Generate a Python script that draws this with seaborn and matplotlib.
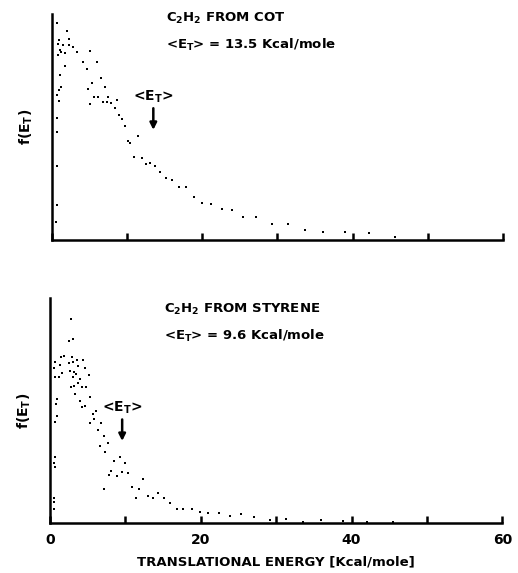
import matplotlib
matplotlib.use("Agg")
import matplotlib.pyplot as plt
import seaborn as sns
import pandas as pd
import numpy as np

# C2H2 from COT (energy in kcal/mole, f(E_T) in arbitrary units)
cot_energy = [0.75, 2.08, 0.93, 0.83, 1.50, 2.34, 2.25, 2.82, 1.10, 1.28,
              1.72, 0.83, 3.35, 5.03, 4.15, 6.00, 1.81, 4.68, 1.15, 6.49,
              5.34, 7.02, 1.28, 0.97, 4.81, 0.70, 5.60, 6.13, 0.97, 7.46,
              6.79, 7.28, 7.91, 8.65, 5.03, 8.44, 9.00, 9.36, 0.70, 9.76,
              0.75, 11.52, 10.10, 10.46, 0.75, 10.90, 11.96, 12.49, 13.11, 13.73,
              14.44, 15.23, 15.99, 16.86, 17.84, 18.94, 19.96, 0.70, 0.62, 21.15,
              22.60, 24.00, 25.47, 27.19, 29.23, 31.35, 33.73, 36.07, 38.94, 42.21,
              45.65]
cot_f = [0.961, 0.926, 0.882, 0.866, 0.863, 0.888, 0.860, 0.855, 0.841, 0.833,
         0.826, 0.819, 0.829, 0.836, 0.789, 0.786, 0.767, 0.757, 0.730, 0.715,
         0.693, 0.678, 0.676, 0.664, 0.667, 0.642, 0.631, 0.634, 0.616, 0.631,
         0.609, 0.608, 0.605, 0.619, 0.602, 0.583, 0.553, 0.534, 0.538, 0.504,
         0.479, 0.460, 0.437, 0.431, 0.327, 0.369, 0.364, 0.336, 0.339, 0.329,
         0.300, 0.273, 0.265, 0.233, 0.236, 0.190, 0.162, 0.156, 0.081, 0.161,
         0.137, 0.134, 0.103, 0.100, 0.069, 0.072, 0.044, 0.037, 0.035, 0.030,
         0.013]

# C2H2 from styrene
sty_energy = [2.85, 2.62, 3.02, 1.92, 1.56, 2.94, 0.73, 3.68, 4.40, 1.39,
              2.49, 3.15, 0.60, 3.81, 4.70, 2.72, 3.28, 3.51, 3.02, 5.14,
              0.64, 1.17, 1.66, 4.04, 3.81, 2.81, 3.25, 4.26, 4.79, 3.38,
              4.04, 5.36, 4.26, 4.61, 1.03, 0.86, 0.95, 0.73, 5.72, 6.16,
              5.36, 5.93, 6.82, 6.46, 7.13, 7.66, 6.69, 7.39, 9.25, 8.54,
              10.00, 0.73, 0.50, 0.73, 8.15, 7.92, 8.90, 9.56, 10.40, 12.42,
              7.13, 10.89, 11.89, 11.42, 13.00, 13.67, 14.41, 15.21, 15.96, 0.50,
              0.50, 0.50, 16.85, 17.72, 18.83, 19.93, 21.03, 22.49, 23.90, 25.36,
              27.13, 29.20, 31.30, 33.60, 35.90, 38.90, 42.00, 45.50]
sty_f = [0.905, 0.810, 0.818, 0.744, 0.736, 0.736, 0.717, 0.724, 0.724, 0.702,
         0.710, 0.717, 0.690, 0.698, 0.688, 0.676, 0.671, 0.661, 0.650, 0.658,
         0.650, 0.648, 0.665, 0.639, 0.624, 0.603, 0.609, 0.604, 0.606, 0.573,
         0.544, 0.561, 0.517, 0.521, 0.551, 0.529, 0.476, 0.450, 0.484, 0.499,
         0.443, 0.461, 0.443, 0.413, 0.387, 0.357, 0.342, 0.314, 0.295, 0.277,
         0.265, 0.295, 0.268, 0.248, 0.232, 0.213, 0.210, 0.227, 0.221, 0.196,
         0.151, 0.161, 0.151, 0.110, 0.120, 0.110, 0.135, 0.110, 0.088, 0.110,
         0.093, 0.062, 0.065, 0.061, 0.065, 0.050, 0.046, 0.043, 0.033, 0.039,
         0.028, 0.016, 0.018, 0.006, 0.013, 0.009, 0.003, 0.003]

mean_et = [13.5, 9.6]
titles = ["C$_2$H$_2$ FROM COT", "C$_2$H$_2$ FROM STYRENE"]
x_ticks = [0, 10, 20, 30, 40, 50, 60]
x_ticklabels = ["0", "", "20", "", "40", "", "60"]

sns.set_style("ticks")
plt.rcParams["font.family"] = ["DejaVu Sans"]
plt.rcParams["font.weight"] = "bold"
plt.rcParams["text.color"] = "black"
plt.rcParams["axes.labelcolor"] = "black"
plt.rcParams["xtick.color"] = "black"
plt.rcParams["mathtext.fontset"] = "custom"
plt.rcParams["mathtext.rm"] = "DejaVu Sans:bold"
plt.rcParams["mathtext.it"] = "DejaVu Sans:bold"
plt.rcParams["mathtext.bf"] = "DejaVu Sans:bold"

fig = plt.figure(figsize=(5.18, 5.73), dpi=100)
ax_top = fig.add_axes([0.100, 0.581, 0.871, 0.395])
ax_bot = fig.add_axes([0.096, 0.087, 0.874, 0.393])

panels = [
    (ax_top, pd.DataFrame({"E": cot_energy, "f": cot_f}), 0),
    (ax_bot, pd.DataFrame({"E": sty_energy, "f": sty_f}), 1),
]

for ax, df, i in panels:
    sns.scatterplot(data=df, x="E", y="f", ax=ax, color="black", s=2.5,
                    linewidth=0, marker="s")
    ax.set_xlim(0, 60)
    ax.set_ylim(0, 1.0)
    sns.despine(ax=ax)
    for side in ["left", "bottom"]:
        ax.spines[side].set_linewidth(1.8)
        ax.spines[side].set_color("black")
    ax.set_yticks([])
    ax.set_xticks(x_ticks)
    if i == 1:
        ax.set_xticklabels(x_ticklabels, fontsize=10, fontweight="bold")
        ax.set_xlabel("TRANSLATIONAL ENERGY [Kcal/mole]", fontsize=9.5,
                      fontweight="bold", labelpad=6)
    else:
        ax.set_xticklabels([])
        ax.set_xlabel("")
    ax.tick_params(axis="x", direction="in", length=5, width=1.8, pad=7)
    ax.set_ylabel("f(E$_T$)", fontsize=10, fontweight="bold", labelpad=12)

    # panel text
    ax.text(15.2, 0.98 if i == 0 else 0.95, titles[i], fontsize=9.5,
            fontweight="bold", va="center", ha="left")
    ax.text(15.2, 0.86 if i == 0 else 0.83,
            "<E$_T$> = %s Kcal/mole" % mean_et[i], fontsize=9.5,
            fontweight="bold", va="center", ha="left")

    # mean energy arrow
    tip = 0.487 if i == 0 else 0.365
    ax.annotate("<E$_T$>", xy=(mean_et[i], tip),
                xytext=(mean_et[i], tip + 0.11),
                ha="center", va="bottom", fontsize=10, fontweight="bold",
                arrowprops=dict(arrowstyle="-|>", color="black", lw=1.8,
                                mutation_scale=10, shrinkA=0, shrinkB=0))

fig.savefig("out.png", dpi=100)
